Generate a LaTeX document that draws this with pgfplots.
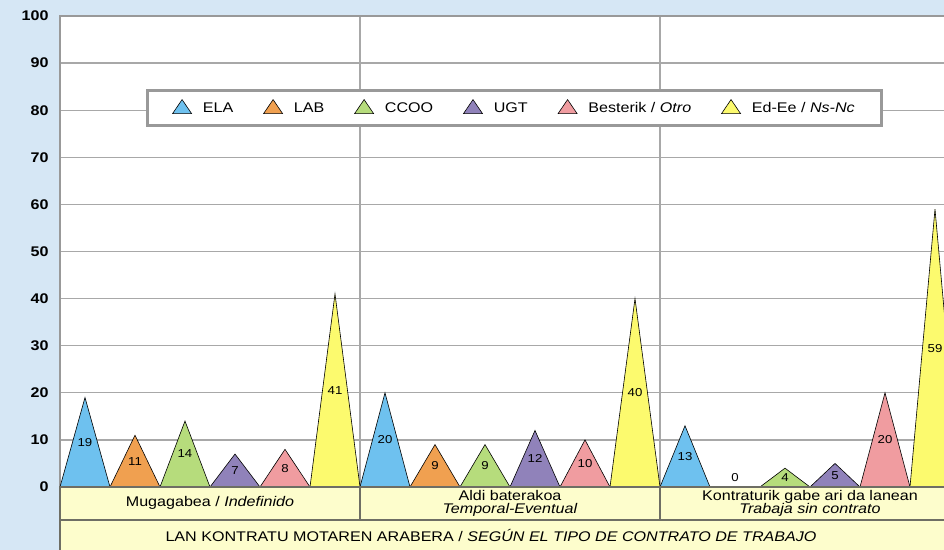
\documentclass[border=0pt]{standalone}
\usepackage{fontspec}
\setmainfont{Liberation Sans}[FakeStretch=1.15]
\usepackage{pgfplots}
\pgfplotsset{compat=1.18}
\usepackage{pgfplotstable}

\definecolor{bgblue}{HTML}{D6E7F5}
\definecolor{cellyel}{HTML}{FDFDCC}
\definecolor{cellline}{HTML}{6E6E64}
\definecolor{gridc}{HTML}{A8A8A8}
\definecolor{framec}{HTML}{999999}
\definecolor{ELAc}{HTML}{6EC1EF}
\definecolor{LABc}{HTML}{F0A050}
\definecolor{CCOOc}{HTML}{B6DC7C}
\definecolor{UGTc}{HTML}{9082BA}
\definecolor{OTROc}{HTML}{F09CA0}
\definecolor{NSNCc}{HTML}{FCFA6E}

% peak values: x = 6*group + series + 0.5
\pgfplotstableread{
x    v
0.5  19
1.5  11
2.5  14
3.5  7
4.5  8
5.5  41
6.5  20
7.5  9
8.5  9
9.5  12
10.5 10
11.5 40
12.5 13
13.5 0
14.5 4
15.5 5
16.5 20
17.5 59
}\peaks

\begin{document}
\begin{tikzpicture}
\fill[bgblue] (-60bp,-63bp) rectangle (884bp,487bp);
\begin{axis}[
    name=ax,
    scale only axis,
    width=900bp, height=471bp,
    xmin=0, xmax=18, ymin=0, ymax=100,
    clip=false,
    unbounded coords=jump,
    axis background/.style={fill=white},
    axis line style={draw=framec, line width=2.5bp},
    ytick={0,10,...,100},
    xtick={6,12},
    xticklabels={},
    major tick length=0pt,
    ymajorgrids, xmajorgrids,
    grid style={draw=gridc, line width=1.2bp},
    /pgf/number format/assume math mode=true,
    yticklabel style={font=\bfseries\fontsize{14bp}{14bp}\selectfont, xshift=-8bp},
    legend columns=-1,
    legend style={at={(0.505,0.805)}, anchor=center,
      draw=framec, line width=3bp, fill=white,
      font=\fontsize{14bp}{16bp}\selectfont,
      inner xsep=25bp, inner ysep=9bp,
      /tikz/every odd column/.append style={column sep=9bp},
      /tikz/every even column/.append style={column sep=28bp}},
    legend image code/.code={%
      \draw[#1, line width=0.6bp] (0bp,-5bp) -- (9.5bp,9bp) -- (19bp,-5bp) -- cycle;},
  ]
\addplot[fill=ELAc, draw=black, line width=0.6bp] coordinates
  {(0,0) (0.5,19) (1,0) (nan,nan) (6,0) (6.5,20) (7,0) (nan,nan) (12,0) (12.5,13) (13,0)};
\addplot[fill=LABc, draw=black, line width=0.6bp] coordinates
  {(1,0) (1.5,11) (2,0) (nan,nan) (7,0) (7.5,9) (8,0) (nan,nan) (13,0) (13.5,0) (14,0)};
\addplot[fill=CCOOc, draw=black, line width=0.6bp] coordinates
  {(2,0) (2.5,14) (3,0) (nan,nan) (8,0) (8.5,9) (9,0) (nan,nan) (14,0) (14.5,4) (15,0)};
\addplot[fill=UGTc, draw=black, line width=0.6bp] coordinates
  {(3,0) (3.5,7) (4,0) (nan,nan) (9,0) (9.5,12) (10,0) (nan,nan) (15,0) (15.5,5) (16,0)};
\addplot[fill=OTROc, draw=black, line width=0.6bp] coordinates
  {(4,0) (4.5,8) (5,0) (nan,nan) (10,0) (10.5,10) (11,0) (nan,nan) (16,0) (16.5,20) (17,0)};
\addplot[fill=NSNCc, draw=black, line width=0.6bp] coordinates
  {(5,0) (5.5,41) (6,0) (nan,nan) (11,0) (11.5,40) (12,0) (nan,nan) (17,0) (17.5,59) (18,0)};
\legend{ELA, LAB, CCOO, UGT, Besterik / \textit{Otro}, Ed-Ee / \textit{Ns-Nc}}

% value labels, centred at half height
\addplot[draw=none, mark=none, forget plot,
  nodes near coords, point meta=explicit,
  every node near coord/.style={anchor=center, black,
    font=\fontsize{11.5bp}{12bp}\selectfont}]
  table[x=x, y expr={max(\thisrow{v}/2,2)}, meta=v] {\peaks};

% category table below the axis
\fill[cellyel] (axis cs:0,0) rectangle (axis cs:18,-14);
\draw[cellline, line width=1.2bp] (axis cs:0,-14) -- (axis cs:0,0) -- (axis cs:18,0);
\draw[cellline, line width=1.2bp] (axis cs:0,-7) -- (axis cs:18,-7);
\draw[cellline, line width=1.2bp] (axis cs:6,0) -- (axis cs:6,-7);
\draw[cellline, line width=1.2bp] (axis cs:12,0) -- (axis cs:12,-7);
\begin{scope}[every node/.style={font=\fontsize{14bp}{13.5bp}\selectfont, align=center, inner sep=0pt}]
\node at (axis cs:3,-3.4) {Mugagabea / \textit{Indefinido}};
\node at (axis cs:9,-3.5) {Aldi baterakoa\\\textit{Temporal-Eventual}};
\node at (axis cs:15,-3.5) {Kontraturik gabe ari da lanean\\\textit{Trabaja sin contrato}};
\node at (axis cs:8.62,-10.4) {LAN KONTRATU MOTAREN ARABERA / \textit{SEGÚN EL TIPO DE CONTRATO DE TRABAJO}};
\end{scope}
\end{axis}
\pgfresetboundingbox
\useasboundingbox (-60bp,-63bp) rectangle (884bp,487bp);
\end{tikzpicture}
\end{document}
